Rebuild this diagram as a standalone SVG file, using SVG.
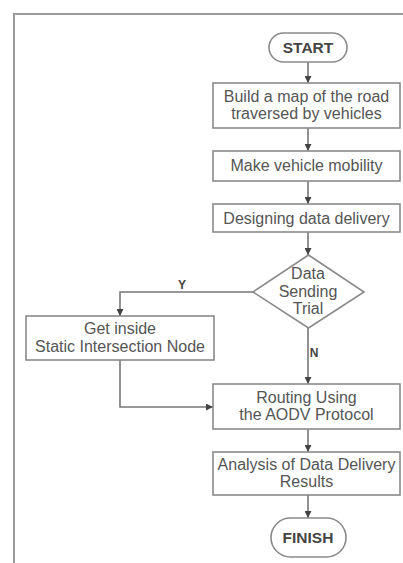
<svg xmlns="http://www.w3.org/2000/svg" width="403" height="563" viewBox="0 0 403 563">
<style>
.shape{fill:#fff;stroke:#8a8a8a;stroke-width:1.6}
.t{font-family:"Liberation Sans",Arial,sans-serif;font-size:16px;fill:#555;text-anchor:middle}
.b{font-weight:bold;fill:#444;font-size:15.5px}
.lbl{font-family:"Liberation Sans",Arial,sans-serif;font-size:12px;font-weight:bold;fill:#444;text-anchor:middle}
.c{fill:none;stroke:#777;stroke-width:1.6}
</style>
<defs>
<marker id="ah" viewBox="0 0 10 10" refX="10" refY="5" markerWidth="7" markerHeight="7" markerUnits="userSpaceOnUse" orient="auto">
<path d="M0,0 L10,5 L0,10 z" fill="#444"/>
</marker>
</defs>
<rect width="403" height="563" fill="#fff"/>
<path d="M14,563 V14 H403" fill="none" stroke="#9a9a9a" stroke-width="2"/>
<g id="connectors">
<path class="c" d="M308,62 V83" marker-end="url(#ah)"/>
<path class="c" d="M308,128 V151" marker-end="url(#ah)"/>
<path class="c" d="M308,181 V204" marker-end="url(#ah)"/>
<path class="c" d="M308,232 V255" marker-end="url(#ah)"/>
<path class="c" d="M253,292 H120 V316" marker-end="url(#ah)"/>
<path class="c" d="M308,328 V384" marker-end="url(#ah)"/>
<path class="c" d="M120,360 V407 H213" marker-end="url(#ah)"/>
<path class="c" d="M308,429 V452" marker-end="url(#ah)"/>
<path class="c" d="M308,495 V518" marker-end="url(#ah)"/>
<text class="lbl" x="182" y="289">Y</text>
<text class="lbl" x="314" y="357">N</text>
</g>
<g id="start">
<rect class="shape" x="269" y="33" width="78" height="29" rx="14.5"/>
<text class="t b" x="308" y="53">START</text>
</g>
<g id="build">
<rect class="shape" x="213" y="83" width="187" height="45"/>
<text class="t" x="306.5" y="102">Build a map of the road</text>
<text class="t" x="306.5" y="119">traversed by vehicles</text>
</g>
<g id="mobility">
<rect class="shape" x="213" y="151" width="187" height="30"/>
<text class="t" x="306.5" y="171">Make vehicle mobility</text>
</g>
<g id="designing">
<rect class="shape" x="213" y="204" width="187" height="28"/>
<text class="t" x="306.5" y="224">Designing data delivery</text>
</g>
<g id="decision">
<path class="shape" d="M308.5,255 L364,292 L308.5,328 L253,292 Z"/>
<text class="t" x="308" y="279">Data</text>
<text class="t" x="308" y="297">Sending</text>
<text class="t" x="308" y="314">Trial</text>
</g>
<g id="getinside">
<rect class="shape" x="26" y="316" width="188" height="44"/>
<text class="t" x="120" y="334">Get inside</text>
<text class="t" x="120" y="352">Static Intersection Node</text>
</g>
<g id="routing">
<rect class="shape" x="213" y="384" width="187" height="45"/>
<text class="t" x="306.5" y="403">Routing Using</text>
<text class="t" x="306.5" y="420">the AODV Protocol</text>
</g>
<g id="analysis">
<rect class="shape" x="213" y="452" width="187" height="43"/>
<text class="t" x="306.5" y="470">Analysis of Data Delivery</text>
<text class="t" x="306.5" y="487">Results</text>
</g>
<g id="finish">
<rect class="shape" x="271" y="518" width="75" height="39" rx="19.5"/>
<text class="t b" x="308" y="543">FINISH</text>
</g>
</svg>
